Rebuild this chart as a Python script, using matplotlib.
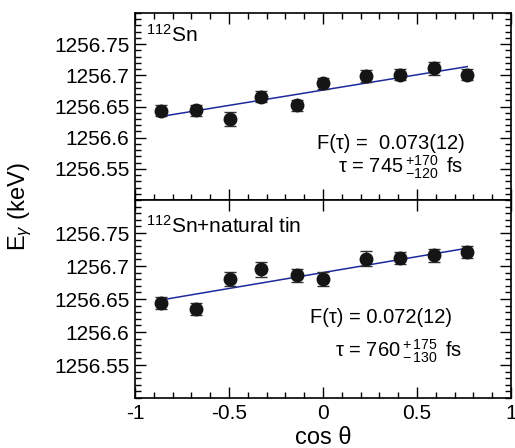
import numpy as np
import matplotlib
matplotlib.use("Agg")
import matplotlib.pyplot as plt
from matplotlib.ticker import MultipleLocator, FixedFormatter, FixedLocator

plt.rcParams['font.family'] = ['Liberation Sans', 'DejaVu Sans']
plt.rcParams['mathtext.fontset'] = 'custom'
plt.rcParams['mathtext.rm'] = 'Liberation Sans'
plt.rcParams['mathtext.it'] = 'Liberation Sans:italic'
plt.rcParams['axes.unicode_minus'] = False

# detector angles (cos theta) and fitted centroids
cos_theta = [-0.862, -0.677, -0.497, -0.328, -0.138, 0.0, 0.227, 0.412, 0.593, 0.767]

e_sn112 = [1256.643, 1256.644, 1256.630, 1256.666, 1256.652,
           1256.687, 1256.699, 1256.701, 1256.711, 1256.701]
err_sn112 = [0.009, 0.009, 0.011, 0.009, 0.009, 0.009, 0.009, 0.009, 0.010, 0.009]
fit_sn112 = [1256.634, 1256.714]

e_nat = [1256.644, 1256.635, 1256.680, 1256.695, 1256.686,
         1256.680, 1256.711, 1256.712, 1256.716, 1256.721]
err_nat = [0.009, 0.009, 0.011, 0.011, 0.010, 0.011, 0.011, 0.009, 0.010, 0.009]
fit_nat = [1256.6485, 1256.727]

ytick_vals = [1256.55, 1256.6, 1256.65, 1256.7, 1256.75]
ytick_labels = ["1256.55", "1256.6", "1256.65", "1256.7", "1256.75"]
xtick_vals = [-1, -0.5, 0, 0.5, 1]
xtick_labels = ["-1", "-0.5", "0", "0.5", "1"]

fig = plt.figure(figsize=(5.15, 4.48), dpi=100)
left, right = 135 / 515, 511 / 515
top, mid, bot = 1 - 13 / 448, 1 - 200 / 448, 1 - 398 / 448
ax1 = fig.add_axes([left, mid, right - left, top - mid])
ax2 = fig.add_axes([left, bot, right - left, mid - bot])

panels = [(ax1, e_sn112, err_sn112, fit_sn112),
          (ax2, e_nat, err_nat, fit_nat)]
for ax, e, err, fit in panels:
    ax.errorbar(cos_theta, e, yerr=err, fmt='o', color='#151515', ms=9,
                ecolor='#303030', elinewidth=1, capsize=4, capthick=1, zorder=3)
    ax.plot([cos_theta[0], cos_theta[-1]], fit, color='#1c2a9c', lw=1.1, zorder=2)
    ax.set_xlim(-1, 1)
    ax.set_ylim(1256.5, 1256.8)
    ax.yaxis.set_major_locator(FixedLocator(ytick_vals))
    ax.yaxis.set_major_formatter(FixedFormatter(ytick_labels))
    ax.yaxis.set_minor_locator(MultipleLocator(0.01))
    ax.xaxis.set_major_locator(FixedLocator(xtick_vals))
    ax.xaxis.set_minor_locator(MultipleLocator(0.1))
    ax.tick_params(which='both', direction='in', right=True, top=True,
                   labelsize=15, width=1, pad=4)
    ax.tick_params(which='major', length=8)
    ax.tick_params(which='minor', length=4)
    for s in ax.spines.values():
        s.set_linewidth(1.2)

ax1.tick_params(labelbottom=False)
ax2.tick_params(which='minor', top=False)
ax2.xaxis.set_major_formatter(FixedFormatter(xtick_labels))

ax1.text(0.03, 0.845, r"$^{112}$Sn", transform=ax1.transAxes,
         fontsize=15, va='baseline', ha='left')
ax1.text(-0.032, 1256.582, "F(τ) =  0.073(12)", fontsize=14.5, ha='left')
ax1.text(0.08, 1256.543, r"τ = 745$\,^{+170}_{-120}\,$ fs", fontsize=14.5, ha='left')

ax2.text(0.03, 0.833, r"$^{112}$Sn+natural tin", transform=ax2.transAxes,
         fontsize=15, va='baseline', ha='left')
ax2.text(-0.069, 1256.614, "F(τ) = 0.072(12)", fontsize=14.5, ha='left')
ax2.text(0.064, 1256.561, r"τ = 760$\,^{+\,175}_{-\,130}\,$ fs", fontsize=14.5, ha='left')

ax2.set_xlabel("cos θ", fontsize=17, labelpad=3)
fig.text(20 / 515, 1 - 207 / 448, r"E$_{\gamma}$ (keV)", fontsize=17,
         rotation=90, ha='center', va='center')

fig.savefig("out.png", dpi=100)
